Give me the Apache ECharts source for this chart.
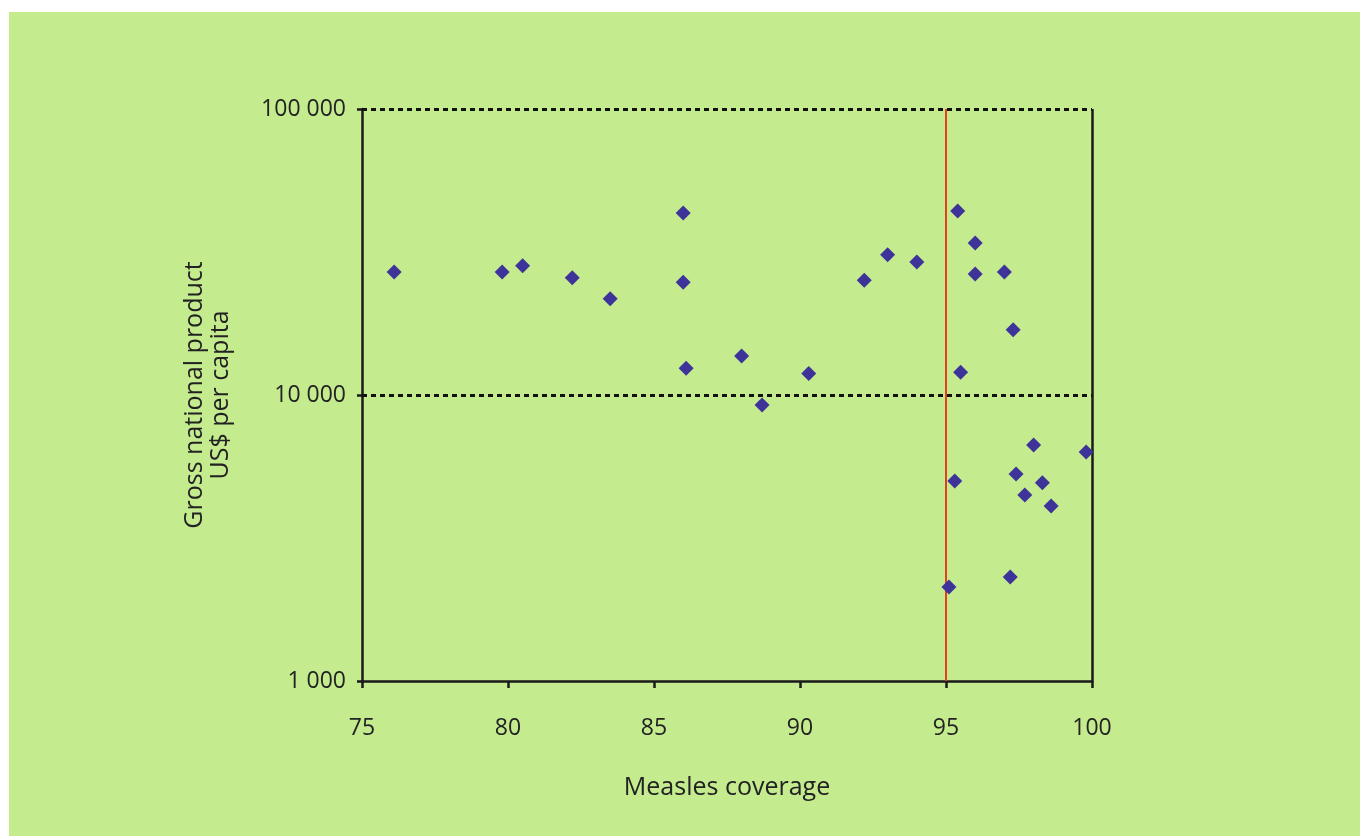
<!DOCTYPE html>
<html>
<head>
<meta charset="utf-8">
<script src="https://cdn.jsdelivr.net/npm/echarts@6/dist/echarts.min.js"></script>
<style>
  html, body { margin: 0; padding: 0; background: #ffffff; }
  #wrap { position: relative; width: 1360px; height: 836px; background: #ffffff; }
  #chart { position: absolute; left: 9px; top: 12px; width: 1351px; height: 824px; background: #c5eb8f; }
</style>
</head>
<body>
<div id="wrap"><div id="chart"></div></div>
<script>
// measles coverage (%) per country
var coverage = [76.1, 79.8, 80.5, 82.2, 83.5, 86.0, 86.0, 86.1, 88.0, 88.7, 90.3, 92.2, 93.0, 94.0,
                95.4, 96.0, 96.0, 97.0, 97.3, 95.5, 98.0, 99.8, 97.4, 95.3, 98.3, 97.7, 98.6, 95.1, 97.2]
// GNP per capita, US$
var gnp = [26900, 26900, 28300, 25700, 21700, 43300, 24800, 12400, 13700, 9230, 11900, 25200, 30900, 29200,
           44000, 34000, 26500, 26900, 16900, 12000, 6690, 6320, 5290, 5000, 4930, 4470, 4090, 2130, 2310]
var xTicks = [75, 80, 85, 90, 95, 100]
var yGridLines = [10000, 100000]
var threshold = 95

var points = coverage.map(function (c, i) { return [c, gnp[i]] })

var dashStyle = { color: '#111', width: 3, type: [5, 4] }
var markData = [
    { xAxis: threshold, lineStyle: { color: '#e0401e', width: 2, type: 'solid' } },
    { xAxis: xTicks[xTicks.length - 1], lineStyle: { color: '#1a1a1a', width: 2.5, type: 'solid' } }
].concat(yGridLines.map(function (v) { return { yAxis: v, lineStyle: dashStyle } }))

var Chart = echarts.init(document.getElementById('chart'))
var font = '"Open Sans", sans-serif'
var option = {
    backgroundColor: 'transparent',
    animation: false,
    grid: {
        left: 353,
        right: 268,
        top: 97,
        bottom: 155
    },
    xAxis: {
        type: 'value',
        min: xTicks[0],
        max: xTicks[xTicks.length - 1],
        interval: 5,
        name: 'Measles coverage',
        nameLocation: 'middle',
        nameGap: 94,
        nameTextStyle: { fontFamily: font, fontSize: 25, color: '#222' },
        axisLine: { show: true, lineStyle: { color: '#1a1a1a', width: 2.5 } },
        axisTick: { show: true, length: 7, lineStyle: { color: '#1a1a1a', width: 2.5 } },
        axisLabel: { margin: 36, fontFamily: font, fontSize: 23, color: '#222' },
        splitLine: { show: false }
    },
    yAxis: {
        type: 'log',
        logBase: 10,
        min: 1000,
        max: 100000,
        name: 'Gross national product\nUS$ per capita',
        nameLocation: 'middle',
        nameRotate: 90,
        nameGap: 128,
        nameTextStyle: { fontFamily: font, fontSize: 25, color: '#222', lineHeight: 26 },
        axisLine: { show: true, lineStyle: { color: '#1a1a1a', width: 2.5 } },
        axisTick: { show: true, length: 5, lineStyle: { color: '#1a1a1a', width: 2.5 } },
        axisLabel: {
            margin: 16,
            fontFamily: font,
            fontSize: 23,
            color: '#222',
            formatter: function (v) {
                return String(Math.round(v)).replace(/\B(?=(\d{3})+(?!\d))/g, ' ')
            }
        },
        splitLine: { show: false }
    },
    series: [
        {
            type: 'scatter',
            data: points,
            symbol: 'diamond',
            symbolSize: 15,
            itemStyle: { color: '#3d3399', opacity: 1 },
            z: 5,
            markLine: {
                silent: true,
                symbol: 'none',
                label: { show: false },
                data: markData
            }
        }
    ]
};
Chart.setOption(option)
</script>
</body>
</html>
